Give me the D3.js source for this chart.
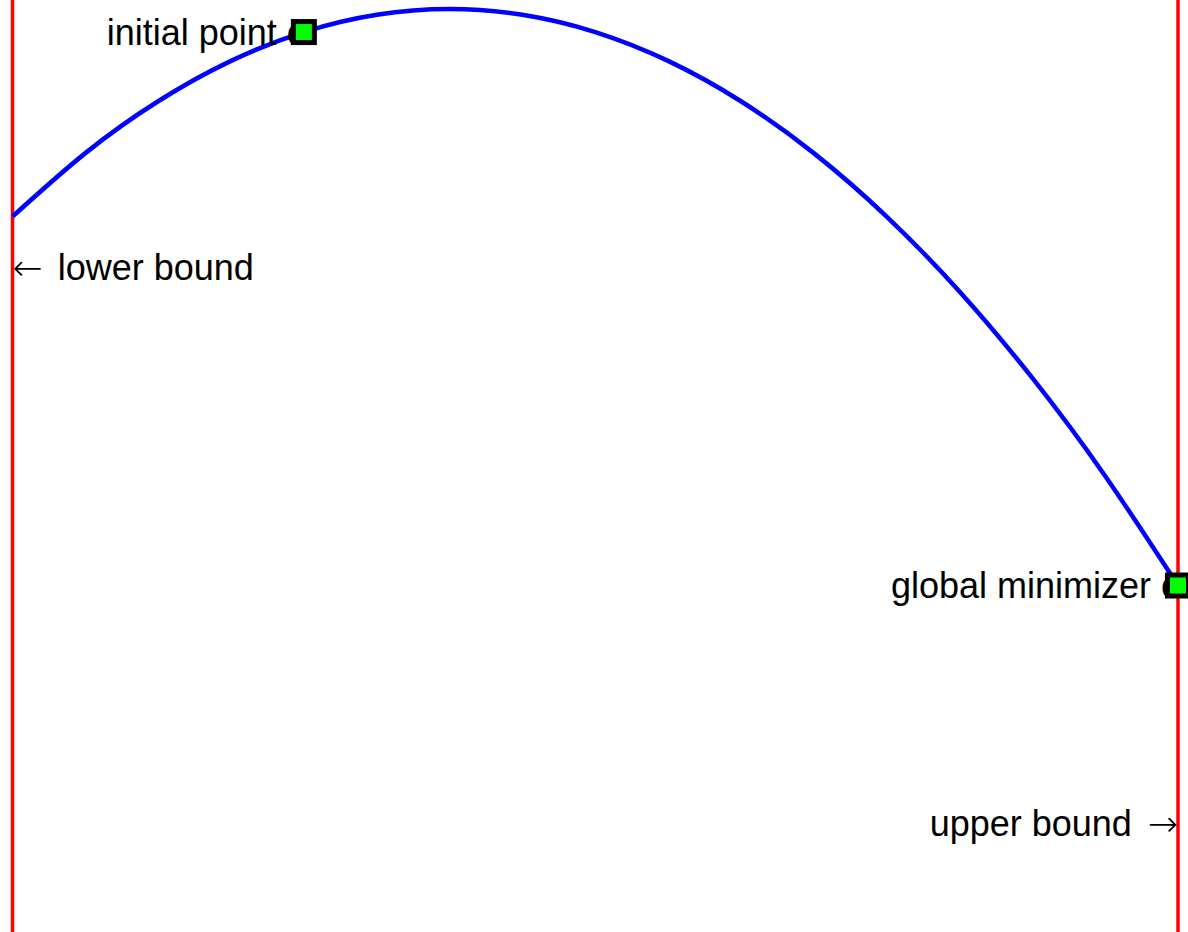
<!DOCTYPE html>
<html>
<head>
<meta charset="utf-8">
<script src="https://cdn.jsdelivr.net/npm/d3@7"></script>
<style>
  html, body { margin: 0; padding: 0; background: #fff; }
  svg { display: block; }
  text { font-family: "Liberation Sans", Arial, Helvetica, sans-serif; font-size: 36px; fill: #000; }
  tspan.arrow { font-family: "DejaVu Sans", sans-serif; font-weight: 200; }
</style>
</head>
<body>
<svg id="chart" width="1188" height="932"></svg>
<script>
// Objective sampled across the feasible interval [lower, upper]
const xs = [-2, -1.75, -1.5, -1.25, -1, -0.75, -0.5, -0.25, 0, 0.25, 0.5, 0.75, 1, 1.25, 1.5, 1.75, 2];
const fs = [-2, -1.3125, -0.75, -0.3125, 0, 0.1875, 0.25, 0.1875, 0, -0.3125, -0.75, -1.3125, -2, -2.8125, -3.75, -4.8125, -6];

// Bounds on x
const bounds = [-2, 2];

// Highlighted points
const markNames = ["initial point", "global minimizer"];
const markX = [-1, 2];
const markF = [0, -6];

// Bound annotations (text, anchor x, anchor f)
const boundLabels = ["lower bound", "upper bound"];
const boundLabelX = [-2, 2];
const boundLabelF = [-2.55, -8.58];

const W = 1188, H = 932;
const svg = d3.select("#chart");

const x = d3.scaleLinear().domain([-2, 2]).range([12.5, 1178]);
const y = d3.scaleLinear().domain([0.25, -6]).range([9, 585.5]);

// Bound lines spanning the full height
svg.selectAll("line.bound")
  .data(bounds)
  .join("line")
  .attr("class", "bound")
  .attr("x1", d => x(d)).attr("x2", d => x(d))
  .attr("y1", 0).attr("y2", H)
  .attr("stroke", "#ff0000")
  .attr("stroke-width", 3.5);

// Objective curve
const pts = xs.map((v, i) => [v, fs[i]]);
svg.append("path")
  .datum(pts)
  .attr("fill", "none")
  .attr("stroke", "#0000ff")
  .attr("stroke-width", 4.5)
  .attr("d", d3.line().x(d => x(d[0])).y(d => y(d[1])).curve(d3.curveNatural));

// Bound annotations with arrows pointing at the bound lines
const lower = svg.append("text")
  .attr("x", x(boundLabelX[0]))
  .attr("y", y(boundLabelF[0]))
  .attr("dy", "0.35em")
  .attr("text-anchor", "start");
lower.append("tspan").attr("class", "arrow").text("\u2190");
lower.append("tspan").attr("dx", 15).text(boundLabels[0]);

const upper = svg.append("text")
  .attr("x", x(boundLabelX[1]))
  .attr("y", y(boundLabelF[1]))
  .attr("dy", "0.35em")
  .attr("text-anchor", "end");
upper.append("tspan").text(boundLabels[1]);
upper.append("tspan").attr("class", "arrow").attr("dx", 16).text("\u2192");

// Point labels (a small circle glyph sits under each marker)
svg.selectAll("text.mlabel")
  .data(markNames)
  .join("text")
  .attr("class", "mlabel")
  .attr("x", (d, i) => x(markX[i]) + 3)
  .attr("y", (d, i) => y(markF[i]))
  .attr("dy", "0.35em")
  .attr("text-anchor", "end")
  .text(d => d + " o");

// Square markers
const s = 21;
svg.selectAll("rect.mark")
  .data(markX)
  .join("rect")
  .attr("class", "mark")
  .attr("x", (d) => x(d) - s / 2)
  .attr("y", (d, i) => y(markF[i]) - s / 2)
  .attr("width", s).attr("height", s)
  .attr("fill", "#00ff00")
  .attr("stroke", "#000")
  .attr("stroke-width", 5);
</script>
</body>
</html>
